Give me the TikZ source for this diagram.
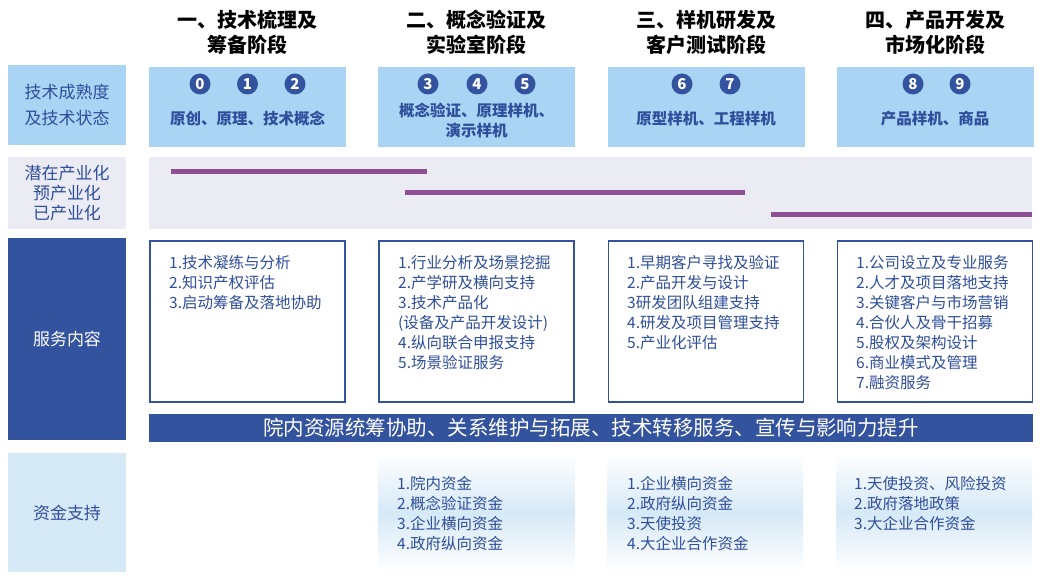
\documentclass[tikz,border=0pt]{standalone}
\usepackage{fontspec}
\setmainfont{Noto Sans CJK SC}
\usepackage{tikz}
\usetikzlibrary{positioning}
\definecolor{darkblue}{HTML}{34539F}
\definecolor{textblue}{HTML}{2F4E9B}
\definecolor{lightblue}{HTML}{A9D4F3}
\definecolor{paleblue}{HTML}{D6E9F7}
\definecolor{lavender}{HTML}{EBEBF4}
\definecolor{barpurple}{HTML}{8F4F95}

\begin{document}
\begin{tikzpicture}[
  x=1pt, y=-1pt,
  box/.style={rectangle, draw=none, inner sep=0pt},
  side/.style={box, minimum width=118pt, align=center, text=textblue, font=\fontsize{17}{20}\selectfont},
  level/.style={box, fill=lightblue, minimum width=197pt, minimum height=80pt},
  level text/.style={align=center, inner sep=0pt, text=textblue, font=\bfseries\fontsize{15.5}{20}\selectfont},
  phase/.style={align=center, inner sep=0pt, font=\bfseries\fontsize{20}{25}\selectfont},
  trl/.style={circle, fill=darkblue, text=white, inner sep=0pt, minimum size=21pt, font=\bfseries\fontsize{15}{15}\selectfont},
  service/.style={rectangle, draw=darkblue, line width=1.6pt, fill=white, minimum width=195pt, minimum height=161pt},
  fund/.style={box, top color=white, bottom color=white, middle color=paleblue, minimum width=196pt, minimum height=119pt},
  items/.style={anchor=north west, align=left, inner sep=0pt, text=textblue, font=\fontsize{15.5}{20}\selectfont},
  bar/.style={barpurple, line width=5pt}
]
  \useasboundingbox (0,0) rectangle (1045,577);

  % stage titles
  \node[phase] (P1) at (247.5,32) {一、技术梳理及\\筹备阶段};
  \node[phase] (P2) at (476.5,32) {二、概念验证及\\实验室阶段};
  \node[phase] (P3) at (706,32)   {三、样机研发及\\客户测试阶段};
  \node[phase] (P4) at (935,32)   {四、产品开发及\\市场化阶段};

  % technology readiness
  \node[side, fill=lightblue, minimum height=80pt, font=\fontsize{17}{26}\selectfont] (TRL) at (67,105) {技术成熟度\\及技术状态};
  \node[level] (L1) at (247.5,107) {};
  \node[level] (L2) at (476.5,107) {};
  \node[level] (L3) at (706,107) {};
  \node[level] (L4) at (935,107) {};
  \node[trl] (T0) at (200,84) {0};
  \node[trl] (T1) at (247.5,84) {1};
  \node[trl] (T2) at (295,84) {2};
  \node[trl] (T3) at (428,84) {3};
  \node[trl] (T4) at (477,84) {4};
  \node[trl] (T5) at (525,84) {5};
  \node[trl] (T6) at (682,84) {6};
  \node[trl] (T7) at (730,84) {7};
  \node[trl] (T8) at (913,84) {8};
  \node[trl] (T9) at (960,84) {9};
  \node[level text] (S1) at (247.5,119) {原创、原理、技术概念};
  \node[level text] (S2) at (476.5,120) {概念验证、原理样机、\\演示样机};
  \node[level text] (S3) at (706,119) {原型样机、工程样机};
  \node[level text] (S4) at (935,119) {产品样机、商品};

  % industrialisation
  \node[side, fill=lavender, minimum height=72pt] (IND) at (67,193) {潜在产业化\\预产业化\\已产业化};
  \node[box, fill=lavender, minimum width=883pt, minimum height=72pt] (INDrow) at (590.5,193) {};
  \draw[bar] (171,172) -- (427,172);
  \draw[bar] (405,193) -- (745,193);
  \draw[bar] (771,215) -- (1032,215);

  % services
  \node[side, fill=darkblue, text=white, minimum height=202pt] (SRV) at (67,339) {服务内容};
  \node[service] (V1) at (247.5,321.5) {};
  \node[service] (V2) at (476.5,321.5) {};
  \node[service] (V3) at (706,321.5) {};
  \node[service] (V4) at (935,321.5) {};
  \node[items] (V1t) at (169,255) {1.技术凝练与分析\\2.知识产权评估\\3.启动筹备及落地协助};
  \node[items] (V2t) at (398,255) {1.行业分析及场景挖掘\\2.产学研及横向支持\\3.技术产品化\\(设备及产品开发设计)\\4.纵向联合申报支持\\5.场景验证服务};
  \node[items] (V3t) at (627,255) {1.早期客户寻找及验证\\2.产品开发与设计\\3研发团队组建支持\\4.研发及项目管理支持\\5.产业化评估};
  \node[items] (V4t) at (856,255) {1.公司设立及专业服务\\2.人才及项目落地支持\\3.关键客户与市场营销\\4.合伙人及骨干招募\\5.股权及架构设计\\6.商业模式及管理\\7.融资服务};
  \node[box, fill=darkblue, text=white, minimum width=884pt, minimum height=28pt, font=\fontsize{20.5}{20}\selectfont] (BAN) at (591,428) {院内资源统筹协助、关系维护与拓展、技术转移服务、宣传与影响力提升};

  % funding
  \node[side, fill=paleblue, minimum height=119pt] (FND) at (67,512.5) {资金支持};
  \node[fund] (F2) at (476.5,512.5) {};
  \node[fund] (F3) at (705,512.5) {};
  \node[fund] (F4) at (934,512.5) {};
  \node[items] (F2t) at (397,476) {1.院内资金\\2.概念验证资金\\3.企业横向资金\\4.政府纵向资金};
  \node[items] (F3t) at (627,476) {1.企业横向资金\\2.政府纵向资金\\3.天使投资\\4.大企业合作资金};
  \node[items] (F4t) at (854,476) {1.天使投资、风险投资\\2.政府落地政策\\3.大企业合作资金};
\end{tikzpicture}
\end{document}
